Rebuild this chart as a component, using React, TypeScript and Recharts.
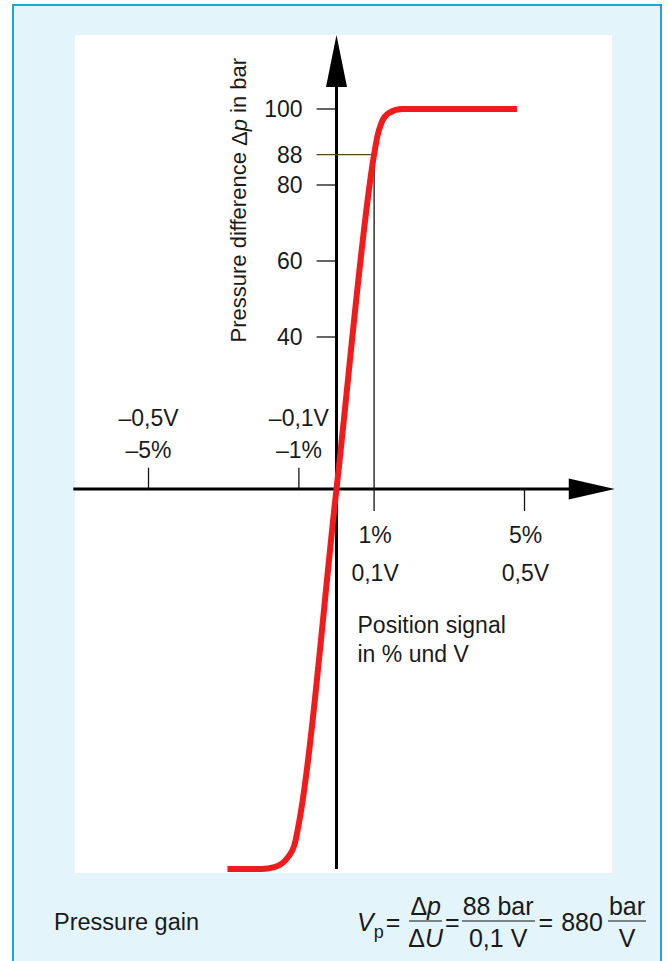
import React from "react";
import { LineChart, Line, XAxis, YAxis, ReferenceLine, ReferenceDot } from "recharts";

// position signal in %, pressure difference in bar
const signalPct = [-2.9, -2.0, -1.65, -1.3, -1.1, -1.0, 0, 1.0, 1.08, 1.2, 1.4, 1.75, 4.8];
const pressureBar = [-100, -100, -99.5, -97, -93, -88, 0, 88, 92.5, 96.5, 99, 100, 100];

const yTicks = [100, 80, 60, 40];
const yTickLabels = ["100", "80", "60", "40"];
const markValue = 88;
const markSignal = 1;

const negTicks = [-5, -1];
const negPctLabels = ["–5%", "–1%"];
const negVoltLabels = ["–0,5V", "–0,1V"];
const posTicks = [1, 5];
const posPctLabels = ["1%", "5%"];
const posVoltLabels = ["0,1V", "0,5V"];

const data = signalPct.map((x, i) => ({ x, dp: pressureBar[i] }));

const FONT = "'Liberation Sans', Arial, Helvetica, sans-serif";
const INK = "#1a1a1a";

const txt =
  (value: string, dx: number, dy: number, anchor: "start" | "middle" | "end" = "middle") =>
  (p: any) =>
    (
      <text
        x={p.cx + dx}
        y={p.cy + dy}
        textAnchor={anchor}
        dominantBaseline="central"
        fontFamily={FONT}
        fontSize={23}
        fill={INK}
      >
        {value}
      </text>
    );

const upArrow = (p: any) => (
  <path d={`M${p.cx},${p.cy} L${p.cx + 10.5},${p.cy + 52} L${p.cx - 10.5},${p.cy + 52} Z`} fill="#000" />
);
const rightArrow = (p: any) => (
  <path d={`M${p.cx},${p.cy} L${p.cx - 46},${p.cy - 10.5} L${p.cx - 46},${p.cy + 10.5} Z`} fill="#000" />
);

const yLabel = (p: any) => (
  <text
    transform={`translate(${p.cx - 98},${p.cy}) rotate(-90)`}
    textAnchor="middle"
    dominantBaseline="central"
    fontFamily={FONT}
    fontSize={22}
    fill={INK}
  >
    Pressure difference <tspan>Δ</tspan>
    <tspan fontStyle="italic">p</tspan> in bar
  </text>
);

const Frac = ({ top, bottom, ml = 0 }: { top: React.ReactNode; bottom: React.ReactNode; ml?: number }) => (
  <span style={{ display: "inline-flex", flexDirection: "column", alignItems: "center", marginLeft: ml }}>
    <span style={{ borderBottom: "1.5px solid #111", padding: "0 1px", lineHeight: "30px" }}>{top}</span>
    <span style={{ lineHeight: "32px" }}>{bottom}</span>
  </span>
);

export default function App() {
  return (
    <div style={{ position: "absolute", left: 0, top: 0, width: 667, height: 961, overflow: "hidden", background: "#fff" }}>
      <div
        style={{
          position: "absolute",
          left: 12,
          top: 4,
          width: 646,
          height: 1000,
          border: "2px solid #1ea3de",
          background: "#e3f5fb",
        }}
      />
      <div style={{ position: "absolute", left: 75, top: 35, width: 537, height: 838, background: "#fff" }} />
      <div style={{ position: "absolute", left: 0, top: 0 }}>
        <LineChart width={667} height={961} data={data} margin={{ top: 33, right: 48.5, bottom: 92, left: 73.3 }}>
          <XAxis type="number" dataKey="x" domain={[-7, 7.5]} hide />
          <YAxis type="number" domain={[-100, 120]} hide />

          {/* axes through the origin */}
          <ReferenceLine segment={[{ x: 0, y: -100 }, { x: 0, y: 106 }]} stroke="#000" strokeWidth={3} />
          <ReferenceLine segment={[{ x: -7, y: 0 }, { x: 6.3, y: 0 }]} stroke="#000" strokeWidth={3} />
          <ReferenceDot x={0} y={119.5} r={0} shape={upArrow} />
          <ReferenceDot x={7.4} y={0} r={0} shape={rightArrow} />

          {/* y ticks */}
          {yTicks.map((v) => (
            <ReferenceLine key={"yt" + v} segment={[{ x: -0.53, y: v }, { x: 0, y: v }]} stroke="#111" strokeWidth={1.3} />
          ))}
          {yTicks.map((v, i) => (
            <ReferenceDot key={"yl" + v} x={0} y={v} r={0} shape={txt(yTickLabels[i], -34, 0, "end")} />
          ))}
          <ReferenceLine segment={[{ x: -0.53, y: markValue }, { x: markSignal, y: markValue }]} stroke="#4f4a1c" strokeWidth={1.3} />
          <ReferenceDot x={0} y={markValue} r={0} shape={txt(String(markValue), -34, 0, "end")} />
          <ReferenceLine segment={[{ x: markSignal, y: markValue }, { x: markSignal, y: -5.8 }]} stroke="#111" strokeWidth={1.3} />

          {/* x ticks */}
          {negTicks.map((v) => (
            <ReferenceLine key={"nt" + v} segment={[{ x: v, y: 0 }, { x: v, y: 5.6 }]} stroke="#111" strokeWidth={1.3} />
          ))}
          {negTicks.map((v, i) => (
            <ReferenceDot key={"nv" + v} x={v} y={0} r={0} shape={txt(negVoltLabels[i], 0, -71)} />
          ))}
          {negTicks.map((v, i) => (
            <ReferenceDot key={"np" + v} x={v} y={0} r={0} shape={txt(negPctLabels[i], 0, -39)} />
          ))}
          <ReferenceLine segment={[{ x: 5, y: 0 }, { x: 5, y: -5.8 }]} stroke="#111" strokeWidth={1.3} />
          {posTicks.map((v, i) => (
            <ReferenceDot key={"pp" + v} x={v} y={0} r={0} shape={txt(posPctLabels[i], 1, 46)} />
          ))}
          {posTicks.map((v, i) => (
            <ReferenceDot key={"pv" + v} x={v} y={0} r={0} shape={txt(posVoltLabels[i], 1, 84)} />
          ))}
          <ReferenceDot x={0} y={0} r={0} shape={txt("Position signal", 21, 136, "start")} />
          <ReferenceDot x={0} y={0} r={0} shape={txt("in % und V", 21, 165, "start")} />
          <ReferenceDot x={0} y={76} r={0} shape={yLabel} />

          <Line
            type="monotone"
            dataKey="dp"
            stroke="#f01c1c"
            strokeWidth={6}
            dot={false}
            isAnimationActive={false}
          />
        </LineChart>
      </div>

      <div
        style={{
          position: "absolute",
          left: 54,
          top: 922,
          transform: "translateY(-50%)",
          fontFamily: FONT,
          fontSize: 23.5,
          color: INK,
        }}
      >
        Pressure gain
      </div>
      <div
        style={{
          position: "absolute",
          left: 357,
          top: 922,
          transform: "translateY(-50%)",
          display: "flex",
          alignItems: "center",
          fontFamily: FONT,
          fontSize: 25,
          color: INK,
          whiteSpace: "nowrap",
        }}
      >
        <span style={{ fontStyle: "italic" }}>V</span>
        <span style={{ fontSize: 18, position: "relative", top: 10 }}>p</span>
        <span style={{ marginLeft: 2 }}>=</span>
        <Frac
          ml={8}
          top={
            <>
              Δ<span style={{ fontStyle: "italic" }}>p</span>
            </>
          }
          bottom={
            <>
              Δ<span style={{ fontStyle: "italic" }}>U</span>
            </>
          }
        />
        <span style={{ marginLeft: 2 }}>=</span>
        <Frac ml={2} top="88 bar" bottom="0,1 V" />
        <span style={{ marginLeft: 4 }}>=</span>
        <span style={{ marginLeft: 8 }}>880</span>
        <Frac ml={5} top="bar" bottom="V" />
      </div>
    </div>
  );
}
